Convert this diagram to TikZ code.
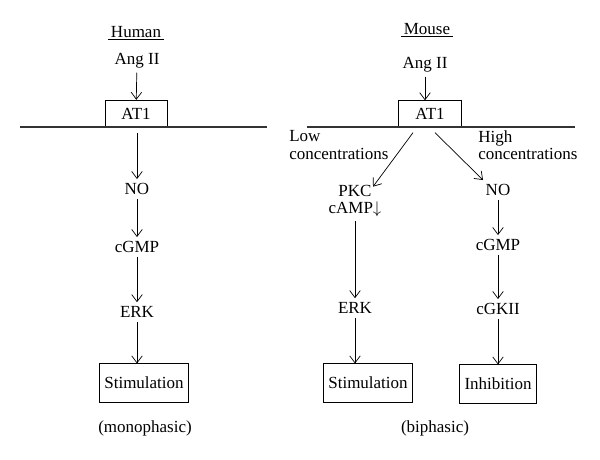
\documentclass[tikz,border=0pt]{standalone}
\usepackage{fontspec}
\setmainfont{Liberation Serif}
\usetikzlibrary{arrows.meta}

\begin{document}
\begin{tikzpicture}[x=0.03cm,y=-0.03cm,font=\fontsize{14.5}{15}\selectfont,
    line width=0.6pt,>={Straight Barb[length=6pt,width=9pt]}]
    \useasboundingbox (0,0) rectangle (600,460);
    \newcommand\molecule[4]{
      \node at (#1,#2) (#3) {#4};
    }
    \newcommand\outcome[4]{
      \node[draw,minimum height=1.15cm,inner xsep=0.15cm] at (#1,#2) (#3) {#4};
    }
    % human
    \node at (136,33) (human) {\underline{\,Human\,}};
    \molecule{137}{61}{angH}{Ang II}
    \node[draw,minimum width=1.86cm,minimum height=0.8cm] at (136,113.5) (atH) {AT1};
    \molecule{137}{189}{noH}{NO}
    \molecule{137}{247}{cgmpH}{cGMP}
    \molecule{137}{312}{erkH}{ERK}
    \outcome{144}{383}{stimH}{Stimulation}
    \node at (145,428) (monoH) {(monophasic)};
    \coordinate (memHl) at (20,127);
    \coordinate (memHr) at (267,127);
    % mouse
    \node at (427,30) (mouse) {\underline{\,Mouse\,}};
    \molecule{425}{65}{angM}{Ang II}
    \node[draw,minimum width=1.89cm,minimum height=0.8cm] at (430,114) (atM) {AT1};
    \node[anchor=west,align=left,inner sep=0pt] at (289,145) (lowM) {Low\\concentrations};
    \node[anchor=west,align=left,inner sep=0pt] at (478,145) (highM) {High\\concentrations};
    \node[align=center] at (355,201) (pkcM) {PKC\\cAMP$\downarrow$};
    \molecule{355}{308}{erkM}{ERK}
    \outcome{368}{383}{stimM}{Stimulation}
    \molecule{498}{190}{noM}{NO}
    \molecule{498}{245}{cgmpM}{cGMP}
    \molecule{498}{309}{cgkM}{cGKII}
    \outcome{498}{384}{inhM}{Inhibition}
    \node at (435,428) (biM) {(biphasic)};
    \coordinate (memMl) at (307,127);
    \coordinate (memMr) at (575,127);
    \draw[line width=0.9pt,black!80] (memHl) -- (memHr) (memMl) -- (memMr);
    \path[->] (angH) edge (atH) (atH.south -| noH) edge[shorten <=0.18cm] (noH)
    (noH) edge (cgmpH) (cgmpH) edge (erkH) (erkH) edge (erkH |- stimH.north)
    (angM) edge (angM |- atM.north)
    ([xshift=-0.51cm,yshift=-0.15cm]atM.south) edge ([xshift=0.54cm,yshift=-0.18cm]pkcM.north)
    ([xshift=0.15cm,yshift=-0.15cm]atM.south) edge ([xshift=-0.45cm]noM.north)
    (pkcM) edge (erkM) (erkM) edge (erkM |- stimM.north)
    (noM) edge (cgmpM) (cgmpM) edge (cgkM) (cgkM) edge (inhM);
  \end{tikzpicture}
\end{document}
